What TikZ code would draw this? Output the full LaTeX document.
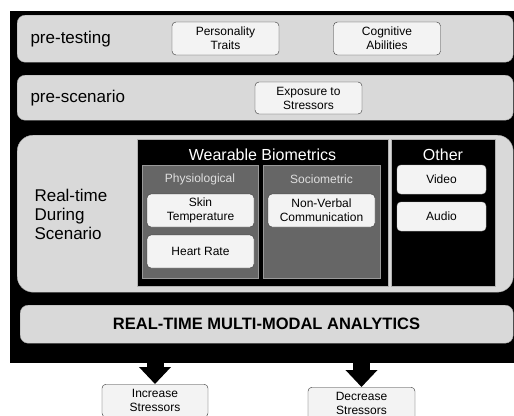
\documentclass[tikz,border=0pt]{standalone}
\usepackage{fontspec}
\setmainfont{Liberation Sans}
\usepackage{tikz}
\usetikzlibrary{arrows.meta}
\definecolor{bandgray}{HTML}{D9D9D9}
\definecolor{boxfill}{HTML}{F3F3F3}
\definecolor{subgray}{HTML}{666666}

\begin{document}
\begin{tikzpicture}[x=1pt, y=-1pt, >=Stealth,
    band/.style={fill=bandgray, draw=gray!70, rounded corners=8pt, anchor=north west, inner sep=0pt},
    item/.style={draw=black!80, fill=boxfill, rounded corners=4pt, align=center, inner sep=0pt,
        minimum width=107pt, minimum height=33pt, font=\fontsize{12}{14}\selectfont},
    media/.style={item, draw=gray!50, minimum width=89pt, minimum height=29pt},
    group/.style={fill=black, draw=gray!60, anchor=north west, inner sep=0pt},
    subgroup/.style={fill=subgray, draw=gray!80, anchor=north west, inner sep=0pt},
    phase/.style={anchor=west, align=left, font=\fontsize{17}{19}\selectfont},
    blockarrow/.style={line width=17pt, -{Triangle[width=31pt, length=17pt]}}]

\clip (0,0) rectangle (514,415);
\fill[white] (0,0) rectangle (514,415);

% Fons
\node[fill=black, anchor=north west, inner sep=0pt, minimum width=504pt, minimum height=352pt] (bg) at (10,11) {};

% pre-testing
\node[band, minimum width=496pt, minimum height=47pt] (pretest) at (17,15) {};
\node[phase] (pretestlbl) at (27,39) {pre-testing};
\node[item] (traits) at (225.5,38.5) {Personality\\Traits};
\node[item] (cognitive) at (387,38.5) {Cognitive\\Abilities};

% pre-scenario
\node[band, minimum width=496pt, minimum height=45pt] (prescen) at (17,75) {};
\node[phase] (prescenlbl) at (27,98) {pre-scenario};
\node[item, minimum height=32pt] (exposure) at (308.5,98) {Exposure to\\Stressors};

% Real-time
\node[band, rounded corners=16pt, minimum width=496pt, minimum height=157pt] (realtime) at (17,135) {};
\node[phase] (realtimelbl) at (31,214) {Real-time\\During\\Scenario};

\node[group, minimum width=251pt, minimum height=147pt] (wearable) at (137,139) {};
\node[white, font=\fontsize{16}{18}\selectfont] (wearablelbl) at (262.5,155) {Wearable Biometrics};
\node[group, minimum width=104pt, minimum height=147pt] (other) at (391,139) {};
\node[white, font=\fontsize{16}{18}\selectfont] (otherlbl) at (443,155) {Other};

\node[subgroup, minimum width=116pt, minimum height=113pt] (physio) at (142,165) {};
\node[gray!25, font=\fontsize{12}{14}\selectfont] (physiolbl) at (200,179) {Physiological};
\node[subgroup, minimum width=117pt, minimum height=113pt] (socio) at (263,165) {};
\node[gray!25, font=\fontsize{12}{14}\selectfont] (sociolbl) at (321.5,179) {Sociometric};

\node[item] (skin) at (200.5,210.5) {Skin\\Temperature};
\node[item] (heart) at (200.5,251.5) {Heart Rate};
\node[item] (nonverbal) at (321.5,210.5) {Non-Verbal\\Communication};
\node[media] (video) at (441.5,179.5) {Video};
\node[media] (audio) at (441.5,216.5) {Audio};

% Analytics
\node[band, minimum width=493pt, minimum height=38pt] (analytics) at (20,305) {};
\node[font=\bfseries\fontsize{16.5}{18}\selectfont] (analyticslbl) at (266.5,324) {REAL-TIME MULTI-MODAL ANALYTICS};

% Resultats
\node[item, anchor=north, minimum width=106pt] (increase) at (155,384) {Increase\\Stressors};
\node[item, anchor=north, minimum width=107pt] (decrease) at (361.5,387) {Decrease\\Stressors};

\draw[blockarrow] (increase.north |- bg.south) -- (increase.north);
\draw[blockarrow] (decrease.north |- bg.south) -- (decrease.north);

\end{tikzpicture}
\end{document}
